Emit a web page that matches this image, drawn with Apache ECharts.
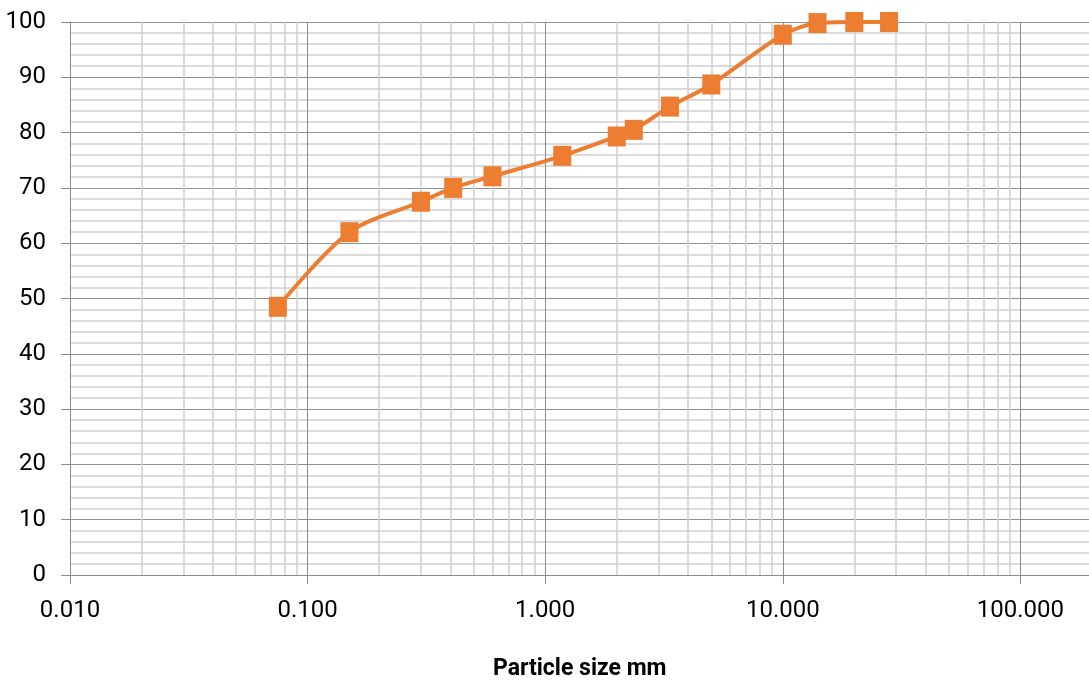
<!DOCTYPE html>
<html lang="en" style="height: 100%">
<head>
    <meta charset="UTF-8">
    <title>Particle size distribution</title>
    <script src="https://cdn.jsdelivr.net/npm/echarts@6/dist/echarts.min.js"></script>
</head>
<body style="height: 100%; margin: 0">
<div id="main" style="width: 1089px; height: 686px"></div>
<script>
    // sieve size (mm) and percent passing
    var sizes = [0.075, 0.15, 0.3, 0.41, 0.6, 1.18, 2.0, 2.36, 3.35, 5.0, 10.0, 14.0, 20.0, 28.0];
    var passing = [48.5, 62.0, 67.5, 70.0, 72.1, 75.8, 79.3, 80.5, 84.7, 88.7, 97.7, 99.8, 100, 100];
    var xTitle = 'Particle size mm';

    var points = [];
    for (var i = 0; i < sizes.length; i++) {
        points.push([sizes[i], passing[i]]);
    }

    var labelFont = 'Roboto';

    var myoption = {
        animation: false,
        title: {
            text: xTitle,
            left: 488,
            top: 653,
            textStyle: {
                fontFamily: labelFont,
                fontSize: 23,
                fontWeight: 'bold',
                color: '#000'
            }
        },
        grid: {
            left: 70,
            right: -169,
            top: 22,
            bottom: 111,
            containLabel: false,
            outerBoundsMode: 'none'
        },
        xAxis: {
            type: 'log',
            logBase: 10,
            min: 0.01,
            max: 1000,
            axisLine: {onZero: false, lineStyle: {color: '#8c8c8c', width: 1}},
            axisTick: {show: true, length: 9, lineStyle: {color: '#8c8c8c'}},
            axisLabel: {
                margin: 24,
                fontFamily: labelFont,
                fontSize: 24,
                color: '#000',
                formatter: function (v) { return v.toFixed(3); }
            },
            splitLine: {show: true, lineStyle: {color: '#8c8c8c', width: 1}},
            minorTick: {show: false, splitNumber: 9},
            minorSplitLine: {show: true, lineStyle: {color: '#cfcfcf', width: 1.5}}
        },
        yAxis: {
            type: 'value',
            min: 0,
            max: 100,
            interval: 10,
            axisLine: {show: true, lineStyle: {color: '#8c8c8c', width: 1}},
            axisTick: {show: true, length: 9, lineStyle: {color: '#8c8c8c'}},
            axisLabel: {
                margin: 24,
                fontFamily: labelFont,
                fontSize: 24,
                color: '#000'
            },
            splitLine: {show: true, lineStyle: {color: '#909090', width: 1}},
            minorTick: {show: false, splitNumber: 5},
            minorSplitLine: {show: true, lineStyle: {color: '#cfcfcf', width: 1.5}}
        },
        series: [
            {
                name: 'Passing',
                type: 'line',
                data: points,
                smooth: 0.3,
                symbol: 'rect',
                symbolSize: [18, 20],
                lineStyle: {color: '#ED7D31', width: 4},
                itemStyle: {color: '#ED7D31'},
                z: 3
            }
        ]
    };
    var myChart = echarts.init(document.getElementById('main'));
    myChart.setOption(myoption);
</script>
</body>
</html>
